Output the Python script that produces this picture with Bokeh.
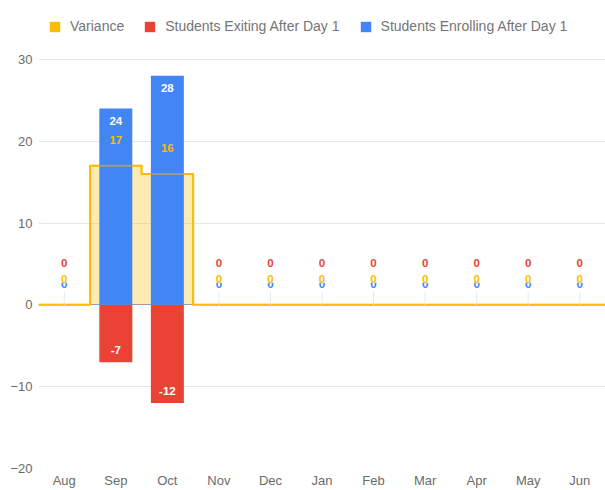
from bokeh.plotting import figure
from bokeh.models import ColumnDataSource, FixedTicker, Legend, LegendItem, FactorRange, Range1d
from bokeh.embed import file_html
from bokeh.resources import INLINE

months = ["Aug", "Sep", "Oct", "Nov", "Dec", "Jan", "Feb", "Mar", "Apr", "May", "Jun"]
variance = [0, 17, 16, 0, 0, 0, 0, 0, 0, 0, 0]
exiting = [0, -7, -12, 0, 0, 0, 0, 0, 0, 0, 0]
enrolling = [0, 24, 28, 0, 0, 0, 0, 0, 0, 0, 0]
y_ticks = [-20, -10, 0, 10, 20, 30]
series_names = ["Variance", "Students Exiting After Day 1", "Students Enrolling After Day 1"]

YELLOW = "#FBBC04"
RED = "#EA4335"
BLUE = "#4285F4"
FONT = "Liberation Sans"

# y range extends above 30 so the legend sits inside the plot frame (top band is legend space)
p = figure(width=605, height=490, x_range=FactorRange(factors=months, range_padding=0),
           y_range=Range1d(-20, 37.2), output_backend="svg", toolbar_location=None,
           min_border_left=38, min_border_right=0, min_border_top=0, min_border_bottom=18)
p.title.visible = False
p.outline_line_color = None
p.background_fill_color = "white"

# step path for variance
sx, sy = [], []
for m, v in zip(months, variance):
    sx += [(m, -0.5), (m, 0.5)]
    sy += [v, v]
step_src = ColumnDataSource(dict(x=sx, y=sy, y0=[0] * len(sy)))

area = p.varea(x="x", y1="y0", y2="y", source=step_src, fill_color=YELLOW, fill_alpha=0.3)
p.hspan(y=[0], line_color="#9e9e9e", line_width=1)
step_line = p.line(x="x", y="y", source=step_src, line_color=YELLOW, line_width=2, line_join="round")

# zero-width bars on the variance values: only used for the legend swatch
var_swatch = p.vbar(x=months, top=variance, width=0, fill_color=YELLOW, line_color=None)

bar_src = ColumnDataSource(dict(x=months, enr=enrolling, ext=exiting))
ext_r = p.vbar(x="x", top="ext", bottom=0, width=0.64, source=bar_src, fill_color=RED, line_color=None)
enr_r = p.vbar(x="x", top="enr", bottom=0, width=0.64, source=bar_src, fill_color=BLUE, line_color=None)
p.line(x="x", y="y", source=step_src, line_color=YELLOW, line_width=2, line_alpha=0.45, line_join="round")

# annotation stems for zero months
zero_m = [m for m, a, b, c in zip(months, variance, exiting, enrolling) if a == 0 and b == 0 and c == 0]
p.segment(x0=zero_m, y0=[0] * len(zero_m), x1=zero_m, y1=[1.6] * len(zero_m),
          line_color="#e8e8e8", line_width=1)

LBL = dict(text_align="center", text_font_size="11.5px", text_font_style="bold", text_font={"value": FONT})

# labels on nonzero values
enr_nz = [(m, v) for m, v in zip(months, enrolling) if v != 0]
ext_nz = [(m, v) for m, v in zip(months, exiting) if v != 0]
var_nz = [(m, v) for m, v in zip(months, variance) if v != 0]

p.text(x=[m for m, v in enr_nz], y=[v for m, v in enr_nz], text=[str(v) for m, v in enr_nz],
       text_baseline="top", y_offset=8, text_color="white", **LBL)
p.text(x=[m for m, v in ext_nz], y=[v for m, v in ext_nz], text=[str(v) for m, v in ext_nz],
       text_baseline="bottom", y_offset=-8, text_color="white", **LBL)
p.text(x=[m for m, v in var_nz], y=[v for m, v in var_nz], text=[str(v) for m, v in var_nz],
       text_baseline="middle", y_offset=-26, text_color=YELLOW, **LBL)

# labels on zero values (stacked above baseline)
enr_z = [m for m, v in zip(months, enrolling) if v == 0]
ext_z = [m for m, v in zip(months, exiting) if v == 0]
var_z = [m for m, v in zip(months, variance) if v == 0]
p.text(x=enr_z, y=[0] * len(enr_z), text=["0"] * len(enr_z), text_baseline="middle",
       y_offset=-21, text_color=BLUE, **LBL)
p.text(x=var_z, y=[0] * len(var_z), text=["0"] * len(var_z), text_baseline="middle",
       y_offset=-26, text_color=YELLOW, background_fill_color="white", **LBL)
p.text(x=ext_z, y=[0] * len(ext_z), text=["0"] * len(ext_z), text_baseline="middle",
       y_offset=-42, text_color=RED, **LBL)

legend = Legend(items=[LegendItem(label=series_names[0], renderers=[var_swatch]),
                       LegendItem(label=series_names[1], renderers=[ext_r]),
                       LegendItem(label=series_names[2], renderers=[enr_r])],
                orientation="horizontal", location=(10, 434), padding=0, margin=0,
                spacing=19, label_standoff=9, glyph_width=13, glyph_height=13,
                label_text_font_size="14px", label_text_color="#757575", label_text_font=FONT,
                border_line_color=None, background_fill_alpha=0)
p.add_layout(legend, "center")

# axes
p.yaxis.ticker = FixedTicker(ticks=y_ticks)
p.ygrid.ticker = FixedTicker(ticks=y_ticks)
p.ygrid.grid_line_color = "#e6e6e6"
p.xgrid.grid_line_color = None
for ax in (p.xaxis[0], p.yaxis[0]):
    ax.axis_line_color = None
    ax.major_tick_line_color = None
    ax.minor_tick_line_color = None
    ax.major_tick_out = 0
    ax.major_tick_in = 0
    ax.minor_tick_out = 0
    ax.minor_tick_in = 0
    ax.major_label_text_font = FONT
    ax.major_label_text_font_size = "13px"
    ax.major_label_text_color = "#6b6b6b"
p.yaxis.major_label_standoff = 6
p.xaxis.major_label_standoff = 4

open("out.html", "w").write(file_html(p, INLINE))
